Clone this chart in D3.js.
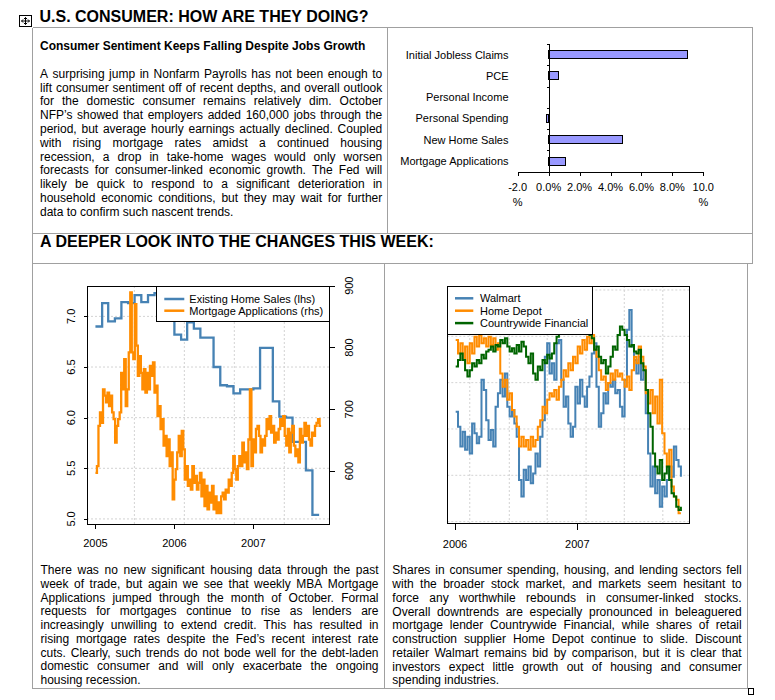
<!DOCTYPE html>
<html>
<head>
<meta charset="utf-8">
<script src="https://cdn.jsdelivr.net/npm/d3@7"></script>
<style>
  body { margin: 0; background: #fff; }
  svg text { font-family: Arial, "Liberation Sans", sans-serif; fill: #000; }
</style>
</head>
<body>
<script>
// ---- data ----
const barCategories = ["Initial Jobless Claims", "PCE", "Personal Income", "Personal Spending", "New Home Sales", "Mortgage Applications"];
const barValues = [9.0, 0.65, 0.0, -0.12, 4.75, 1.1];
const barTicks = [-2, 0, 2, 4, 6, 8, 10];

// existing home sales, millions, monthly from Jan 2005
const homeSalesStart = new Date(2005, 0, 1);
const homeSales = [6.90, 7.13, 6.95, 6.98, 7.14, 7.13, 7.21, 7.14, 7.21, 7.23, 7.10, 7.00,
  6.82, 6.77, 6.94, 6.88, 6.79, 6.79, 6.50, 6.32, 6.31, 6.24, 6.28, 6.28,
  6.29, 6.69, 6.69, 6.16, 6.01, 6.00, 5.76, 5.76, 5.48, 5.04];

// MBA mortgage applications, weekly from Jan 2005
const mortgageStart = new Date(2005, 0, 1);
const mortgageApps = [597, 608, 673, 695, 678, 732, 722, 711, 727, 705, 722, 695, 684, 646, 673, 684, 695, 759, 732, 781,
  705, 732, 792, 889, 792, 781, 870, 803, 754, 786, 759, 732, 765, 727, 759, 732, 770, 754, 776, 727,
  738, 689, 705, 668, 684, 641, 657, 624, 651, 608, 630, 554, 586, 603, 630, 657, 624, 665, 635, 586,
  608, 576, 586, 570, 608, 581, 592, 570, 581, 597, 559, 586, 543, 576, 538, 565, 549, 576, 538, 559,
  532, 549, 532, 559, 565, 554, 570, 565, 586, 576, 597, 624, 603, 586, 608, 624, 608, 646, 614, 630,
  603, 651, 732, 608, 651, 630, 668, 673, 657, 630, 651, 641, 657, 684, 668, 689, 662, 673, 646, 662,
  651, 668, 684, 673, 689, 657, 641, 668, 630, 662, 673, 641, 624, 635, 614, 668, 646, 657, 678, 657,
  673, 651, 641, 662, 657, 673, 678, 684, 673, 673];

const leftTicks = [5.0, 5.5, 6.0, 6.5, 7.0];
const rightTicks = [600, 700, 800, 900];
const housingYears = [new Date(2005, 0, 1), new Date(2006, 0, 1), new Date(2007, 0, 1)];
const housingGrid = [new Date(2005, 5, 30), new Date(2006, 1, 16), new Date(2006, 9, 5), new Date(2007, 4, 24)];

// share prices (rebased index), weekly from Jan 2006
const stockStart = new Date(2006, 0, 3);
const walmart = [73.7, 70.5, 66.2, 69.4, 65.5, 68.3, 64.7, 71.2, 69.1, 66.9, 68.3, 80.6, 78.4, 71.9, 67.6, 69.8, 66.2, 74.8, 77.7, 80.6,
  77.0, 82.0, 74.8, 72.7, 74.1, 71.2, 68.3, 59.0, 55.4, 61.2, 59.0, 61.9, 58.3, 60.4, 64.7, 61.9, 68.3, 71.9, 85.6, 88.5,
  82.0, 84.2, 80.6, 88.5, 89.2, 80.6, 74.8, 77.0, 71.2, 68.3, 70.5, 79.1, 75.5, 80.6, 77.0, 74.8, 79.1, 81.3, 86.3, 88.5,
  79.1, 70.5, 73.4, 77.7, 75.5, 79.9, 79.1, 80.6, 77.7, 78.4, 74.8, 72.7, 80.6, 91.4, 95.7, 87.8, 84.9, 82.0, 85.6, 80.6,
  82.7, 73.4, 64.7, 57.6, 61.9, 56.1, 59.0, 53.2, 57.6, 55.4, 59.0, 61.9, 59.7, 66.2, 63.3, 61.9, 59.7];
const homeDepot = [89.2, 86.3, 88.5, 84.9, 87.8, 84.2, 88.5, 86.3, 89.9, 87.8, 90.3, 88.5, 89.6, 87.8, 89.9, 88.1, 89.6, 87.1, 88.5, 82.0,
  79.1, 80.6, 76.3, 77.7, 74.1, 72.7, 70.5, 66.2, 68.3, 66.2, 67.6, 65.5, 68.3, 66.2, 67.6, 70.5, 71.9, 74.8, 73.4, 76.3,
  77.7, 77.0, 78.4, 76.3, 79.1, 80.6, 82.7, 81.3, 84.2, 82.7, 85.6, 84.2, 87.8, 86.3, 89.2, 87.1, 89.9, 88.5, 90.3, 87.1,
  85.6, 82.7, 80.6, 81.3, 78.4, 79.9, 82.0, 80.6, 82.7, 81.3, 82.0, 80.6, 79.1, 81.3, 78.4, 82.7, 85.6, 84.2, 87.8, 85.6,
  83.5, 77.7, 75.5, 78.4, 73.4, 77.0, 71.2, 80.6, 69.1, 64.7, 61.9, 65.5, 57.6, 55.4, 54.7, 51.8, 51.8];
const countrywide = [83.5, 84.9, 86.3, 84.9, 82.7, 81.3, 82.7, 84.2, 83.5, 84.9, 84.2, 86.0, 85.2, 86.7, 87.1, 87.8, 86.7, 88.1, 87.8, 89.2,
  88.5, 89.6, 87.8, 86.7, 87.4, 86.3, 88.1, 86.7, 88.8, 87.8, 85.6, 84.2, 86.3, 82.0, 80.6, 83.5, 82.7, 84.9, 84.2, 86.0,
  85.2, 86.3, 88.5, 89.9, 90.6, 91.4, 91.8, 92.1, 91.4, 92.5, 91.8, 92.8, 92.1, 92.5, 91.4, 92.1, 91.1, 90.3, 89.6, 87.1,
  87.8, 85.6, 84.2, 84.9, 82.0, 83.5, 85.6, 87.8, 87.1, 90.3, 92.1, 91.4, 90.3, 89.2, 87.8, 88.1, 86.7, 86.3, 87.1, 84.2,
  82.7, 78.4, 73.4, 70.5, 64.7, 61.9, 60.4, 63.3, 59.0, 60.4, 61.9, 59.0, 56.1, 55.4, 53.2, 52.5, 53.2];
const stockYears = [new Date(2006, 0, 1), new Date(2007, 0, 1)];
const stockGridX = [new Date(2006, 1, 14), new Date(2006, 5, 12), new Date(2006, 9, 3), new Date(2007, 0, 27), new Date(2007, 4, 21), new Date(2007, 8, 13)];
const stockGridY = [50, 60, 70, 80, 90, 100];

// ---- text ----
const title = "U.S. CONSUMER: HOW ARE THEY DOING?";
const subTitle = "Consumer Sentiment Keeps Falling Despite Jobs Growth";
const section = "A DEEPER LOOK INTO THE CHANGES THIS WEEK:";
const introLines = [
  "A surprising jump in Nonfarm Payrolls has not been enough to",
  "lift consumer sentiment off of recent depths, and overall outlook",
  "for the domestic consumer remains relatively dim. October",
  "NFP’s showed that employers added 160,000 jobs through the",
  "period, but average hourly earnings actually declined. Coupled",
  "with rising mortgage rates amidst a continued housing",
  "recession, a drop in take-home wages would only worsen",
  "forecasts for consumer-linked economic growth. The Fed will",
  "likely be quick to respond to a significant deterioration in",
  "household economic conditions, but they may wait for further",
  "data to confirm such nascent trends."
];
const housingLines = [
  "There was no new significant housing data through the past",
  "week of trade, but again we see that weekly MBA Mortgage",
  "Applications jumped through the month of October. Formal",
  "requests for mortgages continue to rise as lenders are",
  "increasingly unwilling to extend credit. This has resulted in",
  "rising mortgage rates despite the Fed’s recent interest rate",
  "cuts. Clearly, such trends do not bode well for the debt-laden",
  "domestic consumer and will only exacerbate the ongoing",
  "housing recession."
];
const stockLines = [
  "Shares in consumer spending, housing, and lending sectors fell",
  "with the broader stock market, and markets seem hesitant to",
  "force any worthwhile rebounds in consumer-linked stocks.",
  "Overall downtrends are especially pronounced in beleaguered",
  "mortgage lender Countrywide Financial, while shares of retail",
  "construction supplier Home Depot continue to slide. Discount",
  "retailer Walmart remains bid by comparison, but it is clear that",
  "investors expect little growth out of housing and consumer",
  "spending industries."
];

const width = 775;
const height = 700;
const blue = "#4682b4", orange = "#ff8c00", green = "#006400";
const border = "#a0a0a0";

const svg = d3.select("body").append("svg")
    .attr("width", width)
    .attr("height", height);

svg.append("rect").attr("width", width).attr("height", height).attr("fill", "#fff");

// table frame
const frame = svg.append("g")
    .attr("stroke", border)
    .attr("shape-rendering", "crispEdges");
[[32.5, 27.5, 752.5, 27.5], [32.5, 27.5, 32.5, 688.5], [387.5, 27.5, 387.5, 233.5],
 [752.5, 27.5, 752.5, 263.5], [32.5, 233.5, 752.5, 233.5], [32.5, 263.5, 752.5, 263.5],
 [384.5, 263.5, 384.5, 688.5], [747.5, 263.5, 747.5, 688.5], [32.5, 688.5, 747.5, 688.5]]
    .forEach(l => frame.append("line").attr("x1", l[0]).attr("y1", l[1]).attr("x2", l[2]).attr("y2", l[3]));

// resize handle + move handle
svg.append("rect").attr("x", 748.5).attr("y", 688.5).attr("width", 5).attr("height", 6)
    .attr("fill", "#fff").attr("stroke", "#000").attr("shape-rendering", "crispEdges");
const mv = svg.append("g").attr("stroke", "#000").attr("fill", "none");
mv.append("rect").attr("x", 19.5).attr("y", 15.5).attr("width", 12).attr("height", 11).attr("fill", "#fff").attr("shape-rendering", "crispEdges");
mv.append("path").attr("d", "M25.5,17.5V24.5M21.5,21H29.5M24,19L25.5,17.5L27,19M24,23L25.5,24.5L27,23M23,19.5L21.5,21L23,22.5M28,19.5L29.5,21L28,22.5");

// headings
svg.append("text").attr("x", 39.5).attr("y", 22).attr("font-size", 16).attr("font-weight", "bold").text(title);
svg.append("text").attr("x", 40).attr("y", 50).attr("font-size", 12).attr("font-weight", "bold").text(subTitle);
svg.append("text").attr("x", 40).attr("y", 247).attr("font-size", 16).attr("font-weight", "bold").text(section);

// justified paragraph, one svg text per line
function paragraph(lines, x, y, w, lh) {
    const g = svg.append("g").attr("font-size", 12);
    const probe = g.append("text").attr("font-size", 12);
    const measure = s => probe.text(s).node().getComputedTextLength();
    lines.forEach((line, i) => {
        const t = g.append("text").attr("y", y + i * lh);
        if (i === lines.length - 1) { t.attr("x", x).text(line); return; }
        const words = line.split(" ");
        const ws = words.map(measure);
        const gap = (w - d3.sum(ws)) / (words.length - 1);
        let cx = x;
        words.forEach((word, j) => {
            t.append("tspan").attr("x", cx).text(word);
            cx += ws[j] + gap;
        });
    });
    probe.remove();
}
paragraph(introLines, 40, 77.7, 342.3, 13.8);
paragraph(housingLines, 40.5, 574.3, 338, 13.7);
paragraph(stockLines, 392.3, 574.3, 349.4, 13.75);

// ---- bar chart ----
const by = d3.scaleBand().domain(barCategories).range([44, 171.7]);
const bx = d3.scaleLinear().domain([-2, 10]).range([517.7, 703.3]);
const bar = svg.append("g");
bar.selectAll("rect")
    .data(barCategories.map((c, i) => ({ c, v: barValues[i] })).filter(d => d.v !== 0))
    .join("rect")
    .attr("x", d => bx(Math.min(0, d.v)))
    .attr("width", d => Math.abs(bx(d.v) - bx(0)))
    .attr("y", d => by(d.c) + by.bandwidth() / 2 - 4)
    .attr("height", 8)
    .attr("fill", "#9999ff")
    .attr("stroke", "#000")
    .attr("shape-rendering", "crispEdges");
bar.selectAll(".cat")
    .data(barCategories)
    .join("text")
    .attr("class", "cat")
    .attr("x", 508.5)
    .attr("y", d => by(d) + by.bandwidth() / 2 + 4)
    .attr("text-anchor", "end")
    .attr("font-size", 11)
    .text(d => d);
const catAxis = d3.axisLeft(d3.scaleLinear().domain([0, 6]).range([44, 171.7]))
    .ticks(6).tickSize(2).tickFormat("");
bar.append("g").attr("transform", `translate(${bx(0)},0)`).call(catAxis)
    .call(g => g.selectAll("path,line").attr("stroke", "#000").attr("shape-rendering", "crispEdges"));
const valAxis = d3.axisBottom(bx).tickValues(barTicks).tickSize(4).tickSizeOuter(0).tickFormat("");
const va = bar.append("g").attr("transform", "translate(0,171.7)").call(valAxis);
va.selectAll("path,line").attr("stroke", "#000").attr("shape-rendering", "crispEdges");
barTicks.forEach((v, i) => {
    const lbl = d3.format(".1f")(v).replace("\u2212", "-");
    const t = bar.append("text").attr("font-size", 11).attr("text-anchor", "middle");
    if (i === 0 || i === barTicks.length - 1) {
        // the end labels wrap their % sign onto a second line
        t.append("tspan").attr("x", bx(v)).attr("y", 190.7).text(lbl);
        t.append("tspan").attr("x", bx(v)).attr("y", 206).text("%");
    } else {
        t.attr("x", bx(v)).attr("y", 190.7).text(lbl + "%");
    }
});

// ---- housing chart ----
const hx = d3.scaleTime().domain([new Date(2004, 10, 23), new Date(2007, 11, 18)]).range([87, 329.3]);
const hyL = d3.scaleLinear().domain([4.95, 7.30]).range([524, 286]);
const hyR = d3.scaleLinear().domain([514.2, 899.5]).range([524, 286]);
const hc = svg.append("g");
const gridColor = "#d3d3d3", gridDash = "2,2";
hc.selectAll(".gx").data(housingGrid).join("line")
    .attr("x1", d => hx(d)).attr("x2", d => hx(d)).attr("y1", 286).attr("y2", 524)
    .attr("stroke", gridColor).attr("stroke-dasharray", gridDash);
hc.selectAll(".gy").data(leftTicks).join("line")
    .attr("x1", 87).attr("x2", 329.3).attr("y1", d => hyL(d)).attr("y2", d => hyL(d))
    .attr("stroke", gridColor).attr("stroke-dasharray", gridDash);

const salesData = homeSales.map((v, i) => ({ d: d3.timeMonth.offset(homeSalesStart, i), v }));
salesData.push({ d: d3.timeMonth.offset(homeSalesStart, homeSales.length), v: homeSales[homeSales.length - 1] });
hc.append("path").datum(salesData)
    .attr("d", d3.line().x(p => hx(p.d)).y(p => hyL(p.v)).curve(d3.curveStepAfter))
    .attr("fill", "none").attr("stroke", blue).attr("stroke-width", 2.3);
const mortData = mortgageApps.map((v, i) => ({ d: d3.timeDay.offset(mortgageStart, 7 * i), v }));
hc.append("path").datum(mortData)
    .attr("d", d3.line().x(p => hx(p.d)).y(p => hyR(p.v)).curve(d3.curveStepAfter))
    .attr("fill", "none").attr("stroke", orange).attr("stroke-width", 2.3);

hc.append("rect").attr("x", 87.5).attr("y", 286.5).attr("width", 242).attr("height", 237.5)
    .attr("fill", "none").attr("stroke", "#000").attr("shape-rendering", "crispEdges");

hc.append("g").attr("transform", "translate(0,524)")
    .call(d3.axisBottom(hx).tickValues(housingYears).tickSize(5).tickFormat(""))
    .call(g => g.select(".domain").remove())
    .call(g => g.selectAll("line").attr("stroke", "#000").attr("shape-rendering", "crispEdges"));
hc.selectAll(".xl").data(housingYears).join("text")
    .attr("x", d => hx(d)).attr("y", 546.7).attr("text-anchor", "middle").attr("font-size", 11)
    .text(d3.timeFormat("%Y"));
hc.append("g").attr("transform", "translate(87.5,0)")
    .call(d3.axisLeft(hyL).tickValues(leftTicks).tickSize(4).tickFormat(""))
    .call(g => g.select(".domain").remove())
    .call(g => g.selectAll("line").attr("stroke", "#000").attr("shape-rendering", "crispEdges"));
hc.selectAll(".yl").data(leftTicks).join("text")
    .attr("transform", d => `translate(75,${hyL(d)}) rotate(-90)`)
    .attr("text-anchor", "middle").attr("font-size", 11)
    .text(d3.format(".1f"));
hc.append("g").attr("transform", "translate(329.5,0)")
    .call(d3.axisRight(hyR).tickValues(rightTicks).tickSize(5).tickFormat(""))
    .call(g => g.select(".domain").remove())
    .call(g => g.selectAll("line").attr("stroke", "#000").attr("shape-rendering", "crispEdges"));
hc.selectAll(".yr").data(rightTicks).join("text")
    .attr("transform", d => `translate(353,${hyR(d)}) rotate(-90)`)
    .attr("text-anchor", "middle").attr("font-size", 11)
    .text(d => d);

// legend
const hl = hc.append("g");
hl.append("rect").attr("x", 156.5).attr("y", 286.5).attr("width", 173).attr("height", 35)
    .attr("fill", "#fff").attr("stroke", "#000").attr("shape-rendering", "crispEdges");
[["Existing Home Sales (lhs)", blue], ["Mortgage Applications (rhs)", orange]].forEach((e, i) => {
    const yy = 299 + i * 11.7;
    hl.append("line").attr("x1", 164.3).attr("x2", 184.3).attr("y1", yy).attr("y2", yy)
        .attr("stroke", e[1]).attr("stroke-width", 2.5);
    hl.append("text").attr("x", 189.3).attr("y", yy + 4).attr("font-size", 11).text(e[0]);
});

// ---- stock chart ----
const sx = d3.scaleTime().domain([new Date(2005, 11, 9), new Date(2007, 11, 1)]).range([447.3, 689.3]);
const sy = d3.scaleLinear().domain([49.64, 100.86]).range([523.3, 286]);
const sc = svg.append("g");
sc.selectAll(".gx").data(stockGridX).join("line")
    .attr("x1", d => sx(d)).attr("x2", d => sx(d)).attr("y1", 286).attr("y2", 523.3)
    .attr("stroke", gridColor).attr("stroke-dasharray", gridDash);
sc.selectAll(".gy").data(stockGridY).join("line")
    .attr("x1", 447.3).attr("x2", 689.3).attr("y1", d => sy(d)).attr("y2", d => sy(d))
    .attr("stroke", gridColor).attr("stroke-dasharray", gridDash);

const stockLine = d3.line().x((v, i) => sx(d3.timeDay.offset(stockStart, 7 * i))).y(v => sy(v)).curve(d3.curveStepAfter);
[[walmart, blue], [homeDepot, orange], [countrywide, green]].forEach(s => {
    sc.append("path").datum(s[0]).attr("d", stockLine)
        .attr("fill", "none").attr("stroke", s[1]).attr("stroke-width", 2);
});

sc.append("rect").attr("x", 447.5).attr("y", 286.5).attr("width", 242).attr("height", 237)
    .attr("fill", "none").attr("stroke", "#000").attr("shape-rendering", "crispEdges");
sc.append("g").attr("transform", "translate(0,523.5)")
    .call(d3.axisBottom(sx).tickValues(stockYears).tickSize(6).tickFormat(""))
    .call(g => g.select(".domain").remove())
    .call(g => g.selectAll("line").attr("stroke", "#000").attr("shape-rendering", "crispEdges"));
sc.selectAll(".xl").data(stockYears).join("text")
    .attr("x", d => sx(d)).attr("y", 548).attr("text-anchor", "middle").attr("font-size", 11)
    .text(d3.timeFormat("%Y"));

const sl = sc.append("g");
sl.append("rect").attr("x", 447.5).attr("y", 286.5).attr("width", 145).attr("height", 47.5)
    .attr("fill", "#fff").attr("stroke", "#000").attr("shape-rendering", "crispEdges");
[["Walmart", blue], ["Home Depot", orange], ["Countrywide Financial", green]].forEach((e, i) => {
    const yy = 298.3 + i * 12.4;
    sl.append("line").attr("x1", 455).attr("x2", 473.3).attr("y1", yy).attr("y2", yy)
        .attr("stroke", e[1]).attr("stroke-width", 2.5);
    sl.append("text").attr("x", 480).attr("y", yy + 4).attr("font-size", 11).text(e[0]);
});
</script>
</body>
</html>
